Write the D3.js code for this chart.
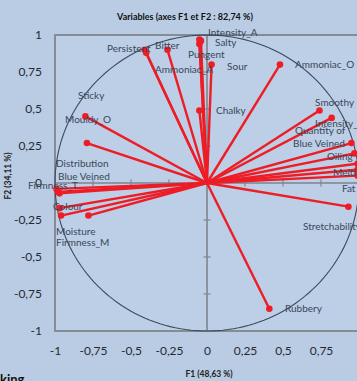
<!DOCTYPE html>
<html>
<head>
<meta charset="utf-8">
<script src="https://cdn.jsdelivr.net/npm/d3@7"></script>
<style>
  html, body { margin: 0; padding: 0; background: #b9cce4; }
  svg { display: block; }
</style>
</head>
<body>
<svg id="chart" width="357" height="381"></svg>
<script>
// ---------- data ----------
const variables = ["Persistent","Bitter","Ammoniac_A","Intensity_A","Salty","Pungent","Sour","Chalky",
  "Ammoniac_O","Smoothy","Intensity_O","Quantity of","Blue Veined","Oiling","Melting","Fat","Stretchability","Rubbery",
  "Sticky","Mouldy_O","Distribution","Blue Veined","Firmness_T","Colour","Moisture","Firmness_M"];
const f1 = [-0.41,-0.26,-0.40,-0.05,-0.04,-0.05,0.03,-0.05,
  0.48,0.74,0.82,0.95,0.97,0.99,0.99,0.99,0.93,0.41,
  -0.80,-0.79,-0.99,-0.98,-0.97,-0.97,-0.96,-0.78];
const f2 = [0.90,0.90,0.88,0.97,0.96,0.94,0.80,0.49,
  0.80,0.49,0.44,0.27,0.20,0.13,0.09,0.05,-0.16,-0.85,
  0.45,0.27,-0.04,-0.06,-0.07,-0.17,-0.22,-0.22];
// label anchor positions (chart units)
const labelX = [-0.658,-0.342,-0.342,0.007,0.053,-0.125,0.132,0.059,
  0.579,0.711,0.711,0.579,0.566,0.789,0.829,0.888,0.632,0.513,
  -0.849,-0.934,-0.993,-0.980,-1.178,-1.013,-0.993,-0.993];
const labelY = [0.912,0.932,0.764,1.020,0.946,0.865,0.784,0.493,
  0.804,0.541,0.405,0.358,0.264,0.176,0.068,-0.034,-0.291,-0.851,
  0.588,0.426,0.135,0.041,-0.014,-0.162,-0.331,-0.405];
const xTicks = [-1,-0.75,-0.5,-0.25,0,0.25,0.5,0.75,1];
const yTicks = [-1,-0.75,-0.5,-0.25,0,0.25,0.5,0.75,1];
const chartTitle = "Variables (axes F1 et F2 : 82,74 %)";
const xTitle = "F1 (48,63 %)";
const yTitle = "F2 (34,11 %)";
const cornerText = "king";

// ---------- scales ----------
const x = d3.scaleLinear().domain([-1, 1]).range([55, 359]);
const y = d3.scaleLinear().domain([-1, 1]).range([331, 35]);
const fmt = d => String(d).replace(".", ",");
const font = "Lato, 'Open Sans', sans-serif";

const svg = d3.select("#chart");

// plot area
svg.append("rect").attr("x", x(-1)).attr("y", y(1))
  .attr("width", x(1) - x(-1)).attr("height", y(-1) - y(1))
  .attr("fill", "#bccfe6").attr("stroke", "#858c95").attr("stroke-width", 2);

// zero axes
svg.append("line").attr("x1", x(-1)).attr("x2", x(1)).attr("y1", y(0)).attr("y2", y(0))
  .attr("stroke", "#7d858f").attr("stroke-width", 1.6);
svg.append("line").attr("x1", x(0)).attr("x2", x(0)).attr("y1", y(1)).attr("y2", y(-1))
  .attr("stroke", "#7d858f").attr("stroke-width", 1.6);
// tick marks on zero axes
svg.append("g").selectAll("line").data(xTicks.filter(t => t !== 0 && Math.abs(t) !== 1)).join("line")
  .attr("x1", d => x(d)).attr("x2", d => x(d)).attr("y1", y(0) - 3.5).attr("y2", y(0) + 3.5)
  .attr("stroke", "#7d858f").attr("stroke-width", 1.2);
svg.append("g").selectAll("line").data(yTicks.filter(t => t !== 0 && Math.abs(t) !== 1)).join("line")
  .attr("y1", d => y(d)).attr("y2", d => y(d)).attr("x1", x(0) - 3.5).attr("x2", x(0) + 3.5)
  .attr("stroke", "#7d858f").attr("stroke-width", 1.2);

// unit circle
const circ = d3.range(0, 361, 2).map(a => [Math.cos(a * Math.PI / 180), Math.sin(a * Math.PI / 180)]);
svg.append("path").datum(circ)
  .attr("d", d3.line().x(d => x(d[0])).y(d => y(d[1])))
  .attr("fill", "none").attr("stroke", "#3d4a5d").attr("stroke-width", 1.1);

// axes (tick labels)
const yAxis = svg.append("g").attr("transform", `translate(${x(-1)},0)`)
  .call(d3.axisLeft(y).tickValues(yTicks).tickFormat(fmt).tickSize(0).tickPadding(13));
yAxis.select(".domain").remove();
yAxis.selectAll("text").attr("font-family", font).attr("font-size", 12).attr("fill", "#262a30");

const xAxis = svg.append("g").attr("transform", `translate(0,${y(-1)})`)
  .call(d3.axisBottom(x).tickValues(xTicks).tickFormat(fmt).tickSize(0).tickPadding(15));
xAxis.select(".domain").remove();
xAxis.selectAll("text").attr("font-family", font).attr("font-size", 12).attr("fill", "#262a30");

// vectors
const vec = svg.append("g");
vec.selectAll("line").data(variables).join("line")
  .attr("x1", x(0)).attr("y1", y(0))
  .attr("x2", (d, i) => x(f1[i])).attr("y2", (d, i) => y(f2[i]))
  .attr("stroke", "#ee1c25").attr("stroke-width", 2.4);
vec.selectAll("circle").data(variables).join("circle")
  .attr("cx", (d, i) => x(f1[i])).attr("cy", (d, i) => y(f2[i])).attr("r", 3.3)
  .attr("fill", "#ee1c25");

// labels
svg.append("g").selectAll("text").data(variables).join("text")
  .attr("x", (d, i) => x(labelX[i])).attr("y", (d, i) => y(labelY[i]))
  .attr("dy", "0.35em")
  .attr("font-family", font).attr("font-size", 10).attr("fill", "#3a4658")
  .text(d => d);

// titles
svg.append("text").attr("x", 185).attr("y", 20).attr("text-anchor", "middle")
  .attr("font-family", font).attr("font-size", 9).attr("font-weight", "bold").attr("fill", "#111")
  .text(chartTitle);
svg.append("text").attr("x", 209).attr("y", 377).attr("text-anchor", "middle")
  .attr("font-family", font).attr("font-size", 8.5).attr("font-weight", "bold").attr("fill", "#222")
  .text(xTitle);
svg.append("text").attr("transform", "translate(11,176) rotate(-90)").attr("text-anchor", "middle")
  .attr("font-family", font).attr("font-size", 8.5).attr("font-weight", "bold").attr("fill", "#222")
  .text(yTitle);
svg.append("text").attr("x", 0).attr("y", 384)
  .attr("font-family", font).attr("font-size", 13).attr("font-weight", "bold").attr("fill", "#111")
  .text(cornerText);
</script>
</body>
</html>
